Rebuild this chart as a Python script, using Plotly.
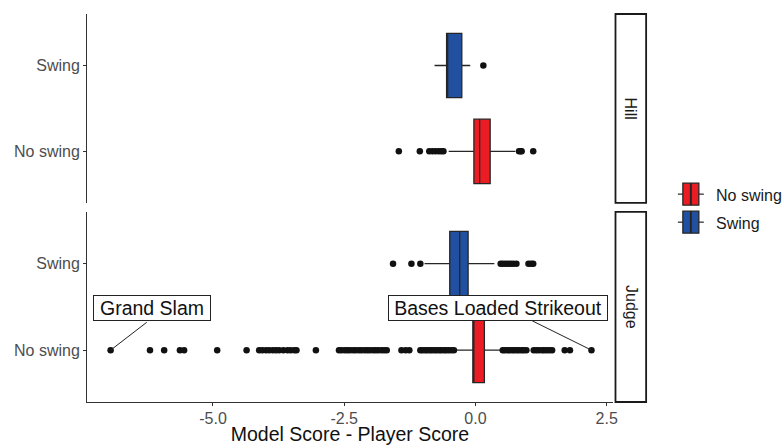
import plotly.graph_objects as go
from plotly.subplots import make_subplots

# ---------------- data ----------------
categories = ["No swing", "Swing"]
players = ["Hill", "Judge"]
x_ticks = [-5.0, -2.5, 0.0, 2.5]
x_tick_labels = ["-5.0", "-2.5", "0.0", "2.5"]

# box statistics: [lowerfence, q1, median, q3, upperfence]
hill_swing_stats = [-0.78, -0.55, -0.53, -0.26, -0.10]
hill_noswing_stats = [-0.51, -0.03, 0.08, 0.28, 0.76]
judge_swing_stats = [-0.97, -0.49, -0.30, -0.14, 0.36]
judge_noswing_stats = [-0.36, -0.05, -0.04, 0.17, 0.47]

hill_swing_out = [0.15]
hill_noswing_out = [-1.46, -1.06, -0.88, -0.82, -0.76, -0.70, -0.65, -0.61,
                    0.83, 0.86, 0.88, 1.10]
judge_swing_out = [-1.57, -1.22, -1.05,
                   0.48, 0.52, 0.57, 0.62, 0.67, 0.72, 0.78, 1.01, 1.06, 1.10]
judge_noswing_out = [-6.95, -6.20, -5.93, -5.63, -5.55, -4.92, -4.36,
                     -4.12, -4.06, -3.99, -3.93, -3.86, -3.80, -3.74, -3.66,
                     -3.58, -3.52, -3.45, -3.41,
                     -3.04,
                     -2.60, -2.55, -2.49, -2.44, -2.39, -2.33, -2.28, -2.22,
                     -2.17, -2.11, -2.06, -2.01, -1.95, -1.90, -1.85, -1.79,
                     -1.74, -1.69,
                     -1.41, -1.33, -1.26,
                     -1.05, -1.01, -0.96, -0.92, -0.87, -0.83, -0.78, -0.74,
                     -0.69, -0.65, -0.60, -0.56, -0.51, -0.46, -0.41,
                     0.52, 0.56, 0.61, 0.65, 0.70, 0.74, 0.79, 0.83, 0.88,
                     0.92, 0.97,
                     1.11, 1.16, 1.21, 1.27, 1.31, 1.36, 1.41, 1.46,
                     1.70, 1.80,
                     2.21]

label_texts = ["Grand Slam", "Bases Loaded Strikeout"]
label_x = [-6.95, 2.21]
label_cat = ["No swing", "No swing"]

legend_names = ["No swing", "Swing"]

colors = {"No swing": "#EC1C24", "Swing": "#2150A0"}
FONT = "Liberation Sans"
EDGE = "#262626"

fig = make_subplots(rows=2, cols=1, shared_xaxes=True)


def add_box(row, cat, stats):
    lf, q1, med, q3, uf = stats
    fig.add_trace(go.Box(
        y=[cat], lowerfence=[lf], q1=[q1], median=[med], q3=[q3], upperfence=[uf],
        orientation="h", name=cat, showlegend=False,
        fillcolor=colors[cat], line=dict(color=EDGE, width=1.3),
        whiskerwidth=0, width=0.75, boxpoints=False,
    ), row=row, col=1)


def add_out(row, cat, xs):
    fig.add_trace(go.Scatter(
        x=xs, y=[cat] * len(xs), mode="markers", showlegend=False,
        marker=dict(color="#111111", size=6.5), hoverinfo="x",
    ), row=row, col=1)


add_box(1, "No swing", hill_noswing_stats)
add_box(1, "Swing", hill_swing_stats)
add_out(1, "No swing", hill_noswing_out)
add_out(1, "Swing", hill_swing_out)
add_box(2, "No swing", judge_noswing_stats)
add_box(2, "Swing", judge_swing_stats)
add_out(2, "No swing", judge_noswing_out)
add_out(2, "Swing", judge_swing_out)

xr = [-7.40, 2.62]
common_y = dict(type="category", categoryorder="array", categoryarray=categories,
                range=[-0.6, 1.6], showline=True, linecolor="#333333", linewidth=1,
                ticks="outside", ticklen=3, tickcolor="#333333",
                tickfont=dict(size=16, color="#4D4D4D", family=FONT),
                showgrid=False, zeroline=False, fixedrange=True, automargin=False)

# plot area in pixels (for paper-coordinate conversions of decorations)
L, R, T, B = 86.5, 613.5, 14.0, 401.7
W, H = R - L, B - T


def px_x(p):
    return (p - L) / W


def px_y(p):
    return (B - p) / H


fig.update_layout(
    width=783, height=445,
    margin=dict(l=86.5, r=783 - 613.5, t=14, b=445 - 401.7, autoexpand=False),
    paper_bgcolor="white", plot_bgcolor="white",
    font=dict(family=FONT, size=16, color="#1A1A1A"),
    boxmode="overlay", showlegend=False,
    xaxis=dict(range=xr, showline=False, ticks="", showticklabels=False,
               showgrid=False, zeroline=False, domain=[0, 1], matches="x2",
               automargin=False),
    xaxis2=dict(range=xr, showline=True, linecolor="#333333", linewidth=1,
                ticks="outside", ticklen=3, tickcolor="#333333",
                tickvals=x_ticks, ticktext=x_tick_labels,
                tickfont=dict(size=16, color="#4D4D4D", family=FONT),
                ticklabelstandoff=-1,
                showgrid=False, zeroline=False, domain=[0, 1], automargin=False,
                title=dict(text="Model Score - Player Score",
                           font=dict(size=19.5, color="#111111", family=FONT),
                           standoff=13)),
    yaxis=dict(domain=[px_y(202.7), 1.0], **common_y),
    yaxis2=dict(domain=[0.0, px_y(211.7)], **common_y),
)

# facet strips
for yref, name in [("y domain", players[0]), ("y2 domain", players[1])]:
    fig.add_shape(type="rect", xref="paper", yref=yref,
                  x0=px_x(616), x1=px_x(646.7), y0=0, y1=1,
                  line=dict(color="#1A1A1A", width=1.8), fillcolor="white",
                  layer="above")
    fig.add_annotation(xref="paper", yref=yref, x=px_x(631.4), y=0.5, text=name,
                       textangle=90, showarrow=False,
                       xanchor="center", yanchor="middle",
                       font=dict(size=16, color="#1A1A1A", family=FONT))

# hand-drawn legend (ggplot-style box keys)
for i, name in enumerate(legend_names):
    cy = 194.0 + 28.0 * i
    fig.add_shape(type="line", xref="paper", yref="paper",
                  x0=px_x(678.5), x1=px_x(704.5), y0=px_y(cy), y1=px_y(cy),
                  line=dict(color=EDGE, width=1.2))
    fig.add_shape(type="rect", xref="paper", yref="paper",
                  x0=px_x(683.5), x1=px_x(699.5), y0=px_y(cy - 11), y1=px_y(cy + 11),
                  line=dict(color=EDGE, width=1.3), fillcolor=colors[name])
    fig.add_shape(type="line", xref="paper", yref="paper",
                  x0=px_x(691.5), x1=px_x(691.5), y0=px_y(cy - 11), y1=px_y(cy + 11),
                  line=dict(color=EDGE, width=2))
    fig.add_annotation(xref="paper", yref="paper", x=px_x(715), y=px_y(cy + 1),
                       text=name, showarrow=False, xanchor="left", yanchor="middle",
                       font=dict(size=16, color="#1A1A1A", family=FONT))

# repel-style labels
label_shift = [(41.6, 42.5), (-93.0, 42.5)]
arrow_tail = [(37.6, -29.0), (-60.6, -30.0)]
label_width = [114, 216]
for txt, lx, lc, (sx, sy), (tx, ty), w in zip(label_texts, label_x, label_cat,
                                              label_shift, arrow_tail, label_width):
    fig.add_annotation(xref="x2", yref="y2", x=lx, y=lc, text="",
                       showarrow=True, arrowhead=0, arrowwidth=1,
                       arrowcolor="#222222", ax=tx, ay=ty, standoff=0)
    fig.add_annotation(xref="x2", yref="y2", x=lx, y=lc, text=txt,
                       showarrow=False, xshift=sx, yshift=sy,
                       bgcolor="white", bordercolor="#222222", borderwidth=1,
                       borderpad=1, width=w,
                       font=dict(size=19.5, color="#111111", family=FONT))

fig.write_html("out.html", config={"displayModeBar": False},
               post_script="document.body.style.margin='0px';")
